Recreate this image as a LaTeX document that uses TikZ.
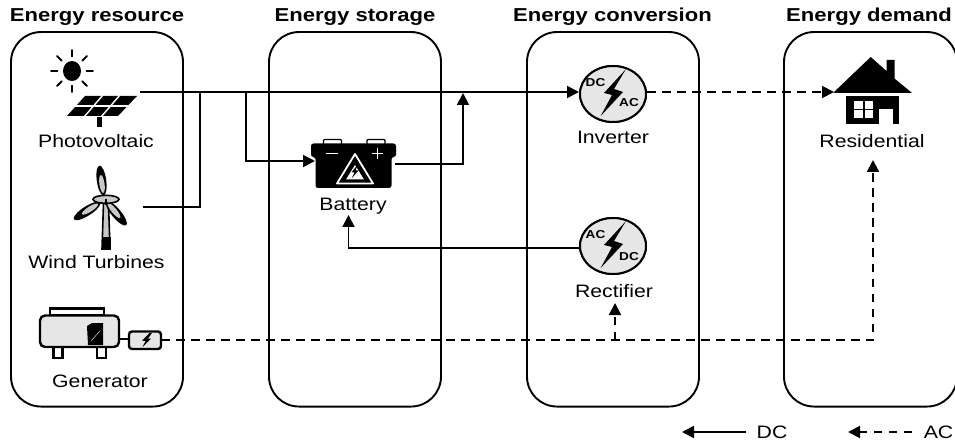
\documentclass[tikz,border=0pt]{standalone}
\usepackage{fontspec}
\setmainfont[FakeStretch=1.18]{Liberation Sans}
\usetikzlibrary{arrows.meta,shapes.geometric,calc}
\definecolor{iconfill}{HTML}{E6E6E6}
\definecolor{bladefill}{HTML}{C8C8C8}
\tikzset{
  stagebox/.style={draw,line width=1.9pt,rounded corners=30pt,minimum height=374.5pt,minimum width=172pt,inner sep=0pt},
  header/.style={font=\fontsize{18.7}{20}\selectfont\bfseries,inner sep=0pt},
  lbl/.style={font=\fontsize{18}{20}\selectfont,inner sep=0pt},
  conv/.style={draw,line width=2pt,fill=iconfill,ellipse,minimum width=66pt,minimum height=56pt,inner sep=0pt},
  convtext/.style={font=\fontsize{11.5}{12}\selectfont\bfseries,inner sep=0pt},
  dcline/.style={line width=1.9pt},
  acline/.style={line width=1.9pt,dash pattern=on 8.5pt off 6.5pt},
  tipped/.style={-{Triangle[length=12pt,width=12pt]}},
  iconline/.style={line width=2.4pt,draw=black},
  myray/.style={line width=1.9pt,line cap=round},
}
\newcommand{\mybolt}[1]{%
  \fill ($(#1)+(13,-25)$) -- ($(#1)+(-9,-1)$) -- ($(#1)+(-1,1)$) -- ($(#1)+(-12.3,22)$) -- ($(#1)+(10,-2)$) -- ($(#1)+(1,-5)$) -- cycle;}
\newcommand{\myblade}[4]{%
  \fill[rotate around={#4:(#1,#2)}] (#1,#2) ellipse [x radius=#3,y radius=4.7];
  \fill[bladefill,rotate around={#4:(#1,#2)}] ($(#1,#2)+(-3.5,0)$) ellipse [x radius=#3-6,y radius=2.6];}
\begin{document}
\begin{tikzpicture}[x=1pt,y=-1pt]
\useasboundingbox (0,0) rectangle (955,446);
\clip (0,0) rectangle (955,446);

% stage boxes
\node[stagebox] (res) at (97,219.3) {};
\node[stagebox] (sto) at (355,219.3) {};
\node[stagebox] (con) at (613,219.3) {};
\node[stagebox,minimum width=173pt] (dem) at (870.5,219.3) {};

% headers
\node[header] (h1) at (97,17) {Energy resource};
\node[header] (h2) at (355,17) {Energy storage};
\node[header] (h3) at (612.5,17) {Energy conversion};
\node[header] (h4) at (869,17) {Energy demand};

% anchor points
\coordinate (pv) at (140,92);
\coordinate (wt) at (143,206.7);
\coordinate (j1) at (200,92);
\coordinate (j1b) at (200,206.7);
\coordinate (j2) at (246,92);
\coordinate (j2b) at (246,161);
\coordinate (batin) at (315,161);
\coordinate (batout) at (395,164);
\coordinate (j3b) at (463,164);
\coordinate (j3) at (463,92);
\coordinate (batbottom) at (348.5,215);
\coordinate (gen) at (161,340);
\coordinate (j4) at (615,340);
\coordinate (j5) at (873,340);
\coordinate (recin) at (615,303);
\coordinate (resin) at (873,160);
\coordinate (house) at (834,92);

% converters
\node[conv] (inv) at (613,94) {};
\node[conv] (rec) at (613,246) {};

% DC connectors
\draw[dcline,tipped] (pv) -- (inv.west |- pv);
\draw[dcline] (wt) -- (j1b) -- (j1);
\draw[dcline,tipped] (j2) -- (j2b) -- (batin);
\draw[dcline,tipped] (batout) -- (j3b) -- (j3 |- 0,93);
\draw[dcline,tipped] (rec.west |- 0,248) -- (batbottom |- 0,248) -- (batbottom);

% AC connectors
\draw[acline] (inv.east |- pv) -- ($(house)+(-8,0)$);
\draw[tipped,line width=1.9pt] ($(house)+(-3,0)$) -- (house);
\draw[acline] (gen) -- (j5) -- ($(resin)+(0,10)$);
\draw[tipped,line width=1.9pt] ($(resin)+(0,5)$) -- (resin);
\draw[acline] (j4) -- ($(recin)+(0,10)$);
\draw[tipped,line width=1.9pt] ($(recin)+(0,5)$) -- (recin);

% converter icons redrawn on top of lines
\node[conv] (inv2) at (613,94) {};
\node[conv] (rec2) at (613,246) {};
\mybolt{inv2}
\mybolt{rec2}
\node[convtext] (t1) at (595.5,83) {DC};
\node[convtext] (t2) at (629,103) {AC};
\node[convtext] (t3) at (595.5,235) {AC};
\node[convtext] (t4) at (629,257) {DC};

% sun
\fill (72,71) ellipse [x radius=9,y radius=10];
\foreach \a in {0,45,...,315}
  \draw[myray] ($(72,71)+({14.5*cos(\a)},{14.5*sin(\a)})$) -- ($(72,71)+({21*cos(\a)},{21*sin(\a)})$);

% solar panel
\fill (85,96) -- (137,96) -- (118,116) -- (67,116) -- cycle;
\draw[white,line width=1.2pt] (74,106) -- (130,106);
\draw[white,line width=1.4pt] (103,95) -- (84,117) (120,95) -- (101,117);
\fill (97,117) rectangle (102,127);

% wind turbine
\draw[line width=1.6pt,fill=bladefill] (103.5,203) -- (108.5,203) -- (110,249) -- (102,249) -- cycle;
\fill (101.5,237) rectangle (110.5,249);
\myblade{101.5}{180.5}{15}{98}
\myblade{87}{211}{15.5}{212.5}
\myblade{116.3}{213.3}{15.5}{-50}
\draw[line width=1.6pt,fill=bladefill] (106,199.3) ellipse [x radius=13,y radius=4];
\draw[line width=1.4pt] (106,199) -- (106,205);

% generator
\draw[iconline,fill=white] (50,315) rectangle (104,308.5);
\draw[iconline,fill=white] (53.5,347) rectangle (62.5,358);
\draw[iconline,fill=white] (97,347) rectangle (106,358);
\draw[iconline,fill=iconfill,rounded corners=5pt] (40,315.5) rectangle (119,347);
\fill (87,326) -- (92,323) -- (103,323) -- (103,345) -- (88,345) -- cycle;
\draw[white,line width=.4pt] (91,341) -- (100,331);
\draw[iconline] (119,339) -- (129,339);
\draw[iconline,fill=iconfill,rounded corners=3pt] (129,331.5) rectangle (161,349);
\fill (149.5,333) -- (142,340.5) -- (145.5,341) -- (142.5,347) -- (151,338.5) -- (148,338.5) -- (152,333) -- cycle;

% battery
\fill[white] (323,139) rectangle (342,145);
\fill[white] (367,139) rectangle (385,145);
\draw[line width=1.3pt,rounded corners=1pt] (323.5,145) -- (323.5,139.5) -- (341.5,139.5) -- (341.5,145);
\draw[line width=1.3pt,rounded corners=1pt] (367,145) -- (367,139.5) -- (385,139.5) -- (385,145);
\fill[rounded corners=2.5pt] (311,143.5) -- (396,143.5) -- (396,157) -- (391.5,157) -- (391.5,188) -- (315.5,188) -- (315.5,157) -- (311,157) -- cycle;
\draw[white,line width=1.7pt] (326,153.5) -- (338,153.5) (372,153.5) -- (383,153.5) (377.5,148) -- (377.5,159);
\draw[white,line width=1.8pt,line join=round] (355,154) -- (373,183.5) -- (337,183.5) -- cycle;
\fill[white] (355,165) -- (364,179.5) -- (346,179.5) -- cycle;
\fill (358,164) -- (351.5,172.5) -- (354.5,172.5) -- (351.5,178.5) -- (358.5,170.5) -- (355.5,170.5) -- cycle;

% house
\fill (870.7,57) -- (886.5,71) -- (886.5,60) -- (894.5,60) -- (894.5,78.5) -- (912,93) -- (833,93) -- cycle;
\fill (845.7,96) rectangle (899.3,124);
\fill[white] (854,100.7) rectangle (873.3,118.3);
\draw[line width=1.8pt] (863.7,100.7) -- (863.7,118.3) (854,109.5) -- (873.3,109.5);
\fill[white] (879.3,109) rectangle (893.3,124);

% labels
\node[lbl] (l1) at (96,141.5) {Photovoltaic};
\node[lbl] (l2) at (96.5,262.5) {Wind Turbines};
\node[lbl] (l3) at (100,381.5) {Generator};
\node[lbl] (l4) at (353,206) {Battery};
\node[lbl] (l5) at (613,137.5) {Inverter};
\node[lbl] (l6) at (614,291.5) {Rectifier};
\node[lbl] (l7) at (872,141.5) {Residential};

% legend
\node[lbl] (dctext) at (772,432.5) {DC};
\node[lbl] (actext) at (938.5,432.5) {AC};
\coordinate (dcl1) at (746,432);
\coordinate (dcl2) at (682,432);
\coordinate (acl1) at (912,432);
\coordinate (acl2) at (848,432);
\draw[dcline,tipped] (dcl1) -- (dcl2);
\draw[acline] (acl1) -- ($(acl2)+(8,0)$);
\draw[tipped,line width=1.9pt] ($(acl2)+(3,0)$) -- (acl2);
\end{tikzpicture}
\end{document}
